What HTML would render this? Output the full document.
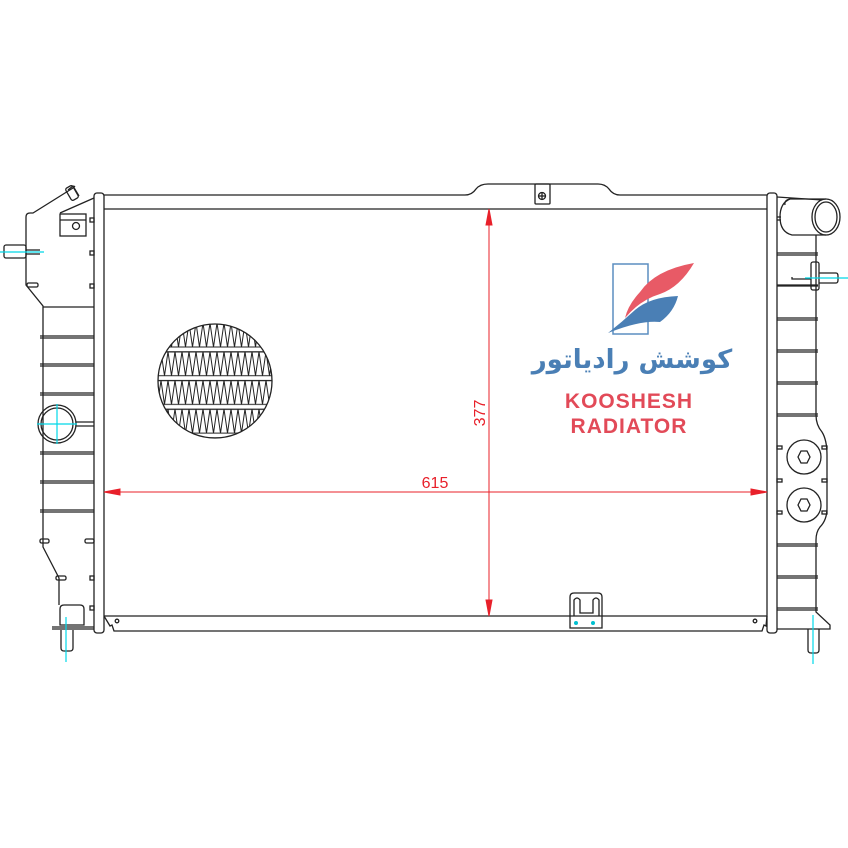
<!DOCTYPE html>
<html><head><meta charset="utf-8"><style>
html,body{margin:0;padding:0;background:#fff;}
svg{display:block}
</style></head><body>
<svg width="848" height="848" viewBox="0 0 848 848" xmlns="http://www.w3.org/2000/svg" font-family="Liberation Sans, sans-serif">
<defs>
<pattern id="zz" patternUnits="userSpaceOnUse" x="0" y="323" width="7" height="28.7">
<polyline points="0,0 3.5,24 7,0" fill="none" stroke="#222" stroke-width="1"/>
<line x1="0" y1="24" x2="7" y2="24" stroke="#222" stroke-width="1"/>
<line x1="0" y1="28.7" x2="7" y2="28.7" stroke="#222" stroke-width="1"/>
<line x1="0" y1="0.3" x2="7" y2="0.3" stroke="#222" stroke-width="1"/>
</pattern>
<clipPath id="cc"><circle cx="215" cy="381" r="57"/></clipPath>
</defs>
<g fill="none" stroke="#222" stroke-width="1.3">
<!-- top frame -->
<path d="M104,195 L465,195 Q472,195 476,189 Q480,184 488,184 L598,184 Q605,184 609,189 Q613,195 620,195 L767,195"/>
<line x1="104" y1="209" x2="767" y2="209"/>
<rect x="535" y="184" width="15" height="20" rx="1"/>
<circle cx="542" cy="196" r="3.5"/>
<line x1="538.5" y1="196" x2="545.5" y2="196"/><line x1="542" y1="192.5" x2="542" y2="199.5"/>
<!-- bottom frame -->
<line x1="104" y1="616" x2="767" y2="616"/>
<path d="M104,616 L110,626 L112,625 L114,631 L762,631 L764,625 L766,626 L767,616"/>
<circle cx="117" cy="621" r="1.8"/>
<circle cx="755" cy="621" r="1.8"/>
<path d="M570,616 L570,597 Q570,593 574,593 L598,593 Q602,593 602,597 L602,628 L570,628 Z"/>
<path d="M574,616 L574,600 Q577,596 580,600 L580,613 L593,613 L593,600 Q596,596 599,600 L599,616"/>
<!-- side plates -->
<rect x="94" y="193" width="10" height="440" rx="3"/>
<rect x="767" y="193" width="10" height="440" rx="3"/>
<!-- left tank -->
<path d="M94,198 L60,213 M73,188 L33,213 L30,213 Q26,213 26,217 L26,285 L43,306 L43,547 L59,578 L59,605"/>
<line x1="43" y1="307" x2="94" y2="307"/>
<path d="M73,188 L75,186 M68,190 L73,186 L79,196"/>
<rect x="68" y="186" width="8" height="14" rx="2" transform="rotate(-30 72 193)"/>
<rect x="60" y="214" width="26" height="22"/>
<line x1="60" y1="220" x2="86" y2="220"/>
<circle cx="76" cy="226" r="3.5"/>
<rect x="4" y="245" width="22" height="13" rx="2"/>
<line x1="26" y1="250" x2="40" y2="250"/><line x1="26" y1="254" x2="40" y2="254"/>
<rect x="27" y="283" width="11" height="4" rx="1.5"/>
<line x1="40" y1="336" x2="94" y2="336"/><line x1="40" y1="338" x2="94" y2="338"/>
<line x1="40" y1="364" x2="94" y2="364"/><line x1="40" y1="366" x2="94" y2="366"/>
<line x1="40" y1="393" x2="94" y2="393"/><line x1="40" y1="395" x2="94" y2="395"/>
<line x1="40" y1="452" x2="94" y2="452"/><line x1="40" y1="454" x2="94" y2="454"/>
<line x1="40" y1="481" x2="94" y2="481"/><line x1="40" y1="483" x2="94" y2="483"/>
<line x1="40" y1="510" x2="94" y2="510"/><line x1="40" y1="512" x2="94" y2="512"/>
<circle cx="57" cy="424" r="19"/><circle cx="57" cy="424" r="16"/>
<line x1="76" y1="422" x2="94" y2="422"/><line x1="76" y1="426" x2="94" y2="426"/>
<rect x="40" y="539" width="9" height="4" rx="1.5"/><rect x="85" y="539" width="9" height="4" rx="1.5"/>
<rect x="56" y="576" width="10" height="4" rx="1.5"/>
<rect x="90" y="218" width="4" height="4"/><rect x="90" y="251" width="4" height="4"/><rect x="90" y="284" width="4" height="4"/>
<rect x="90" y="576" width="4" height="4"/><rect x="90" y="606" width="4" height="4"/>
<path d="M60,625 L60,609 Q60,605 64,605 L80,605 Q84,605 84,609 L84,625 Z"/>
<line x1="52" y1="627" x2="94" y2="627"/><line x1="52" y1="629" x2="94" y2="629"/>
<path d="M61,630 L61,648 Q61,651 64,651 L70,651 Q73,651 73,648 L73,630"/>
<!-- right tank -->
<path d="M777,197 L822,200"/>
<path d="M785,205 Q784,200 790,199 L826,199"/>
<path d="M790,199 Q780,203 780,217 Q780,232 792,235 L826,235"/>
<ellipse cx="826" cy="217" rx="14" ry="18"/>
<ellipse cx="826" cy="217" rx="11" ry="15"/>
<line x1="777" y1="217" x2="781" y2="217"/><line x1="777" y1="220" x2="781" y2="220"/>
<path d="M816,235 L816,415 Q816,425 822,432 Q827,440 827,455 L827,508 Q827,520 820,527 Q816,532 816,540 L816,612 L830,625 L830,629 L777,629"/>
<line x1="777" y1="253" x2="818" y2="253"/><line x1="777" y1="255" x2="818" y2="255"/>
<line x1="777" y1="285" x2="818" y2="285"/>
<line x1="777" y1="286" x2="818" y2="286"/>
<line x1="777" y1="318" x2="818" y2="318"/><line x1="777" y1="320" x2="818" y2="320"/>
<line x1="777" y1="350" x2="818" y2="350"/><line x1="777" y1="352" x2="818" y2="352"/>
<line x1="777" y1="382" x2="818" y2="382"/><line x1="777" y1="384" x2="818" y2="384"/>
<line x1="777" y1="414" x2="818" y2="414"/><line x1="777" y1="416" x2="818" y2="416"/>
<line x1="777" y1="544" x2="818" y2="544"/><line x1="777" y1="546" x2="818" y2="546"/>
<line x1="777" y1="576" x2="818" y2="576"/><line x1="777" y1="578" x2="818" y2="578"/>
<line x1="777" y1="608" x2="818" y2="608"/><line x1="777" y1="610" x2="818" y2="610"/>
<rect x="811" y="262" width="8" height="28" rx="2"/>
<path d="M792,277 L792,279 L811,279 M819,273 L836,273 Q838,273 838,276 L838,280 Q838,283 836,283 L819,283"/>
<circle cx="804" cy="457" r="17"/><circle cx="804" cy="505" r="17"/>
<polygon points="798,457 801,451 807,451 810,457 807,463 801,463"/>
<polygon points="798,505 801,499 807,499 810,505 807,511 801,511"/>
<rect x="777" y="446" width="5" height="3"/><rect x="777" y="479" width="5" height="3"/><rect x="777" y="511" width="5" height="3"/>
<rect x="822" y="446" width="5" height="3"/><rect x="822" y="479" width="5" height="3"/><rect x="822" y="511" width="5" height="3"/>
<path d="M808,629 L808,650 Q808,653 811,653 L816,653 Q819,653 819,650 L819,629"/>
</g>
<!-- grille -->
<g clip-path="url(#cc)">
<rect x="150" y="323" width="130" height="115" fill="url(#zz)"/>
</g>
<circle cx="215" cy="381" r="57" fill="none" stroke="#222" stroke-width="1.3"/>
<!-- cyan centerlines -->
<g stroke="#00d8e8" stroke-width="1.2">
<line x1="0" y1="252" x2="44" y2="252"/>
<line x1="37" y1="424" x2="77" y2="424"/><line x1="57" y1="404" x2="57" y2="444"/>
<line x1="66" y1="617" x2="66" y2="662"/>
<line x1="805" y1="278" x2="848" y2="278"/>
<line x1="813" y1="615" x2="813" y2="664"/>
</g>
<circle cx="576" cy="623" r="2" fill="#00c0d0"/><circle cx="593" cy="623" r="2" fill="#00c0d0"/>
<!-- dimensions -->
<g stroke="#e8202a" stroke-width="1" fill="#e8202a">
<line x1="104" y1="492" x2="767" y2="492"/>
<polygon points="104,492 120,489 120,495"/>
<polygon points="767,492 751,489 751,495"/>
<line x1="489" y1="209" x2="489" y2="616"/>
<polygon points="489,209 486,225 492,225"/>
<polygon points="489,616 486,600 492,600"/>
</g>
<text x="435" y="488" font-size="16" fill="#e8202a" text-anchor="middle">615</text>
<text transform="translate(485,413) rotate(-90)" font-size="16" fill="#e8202a" text-anchor="middle">377</text>
<!-- logo -->
<rect x="613" y="264" width="35" height="70" fill="none" stroke="#5b8ec0" stroke-width="1.5"/>
<path d="M694,263 Q655,270 640,292 Q628,305 625,318 Q640,300 660,294 Q680,287 694,263 Z" fill="#e85a66"/>
<path d="M678,296 Q650,297 635,310 Q622,322 608,333 Q640,320 660,322 Q674,312 678,296 Z" fill="#4a7fb5"/>
<text x="632" y="368" font-size="26" font-weight="bold" fill="#4a7fb5" text-anchor="middle" font-family="DejaVu Sans, sans-serif">کوشش رادیاتور</text>
<text x="629" y="408" font-size="21" font-weight="bold" fill="#e24a58" text-anchor="middle" letter-spacing="1">KOOSHESH</text>
<text x="629" y="433" font-size="21" font-weight="bold" fill="#e24a58" text-anchor="middle" letter-spacing="1">RADIATOR</text>
</svg>
</body></html>
